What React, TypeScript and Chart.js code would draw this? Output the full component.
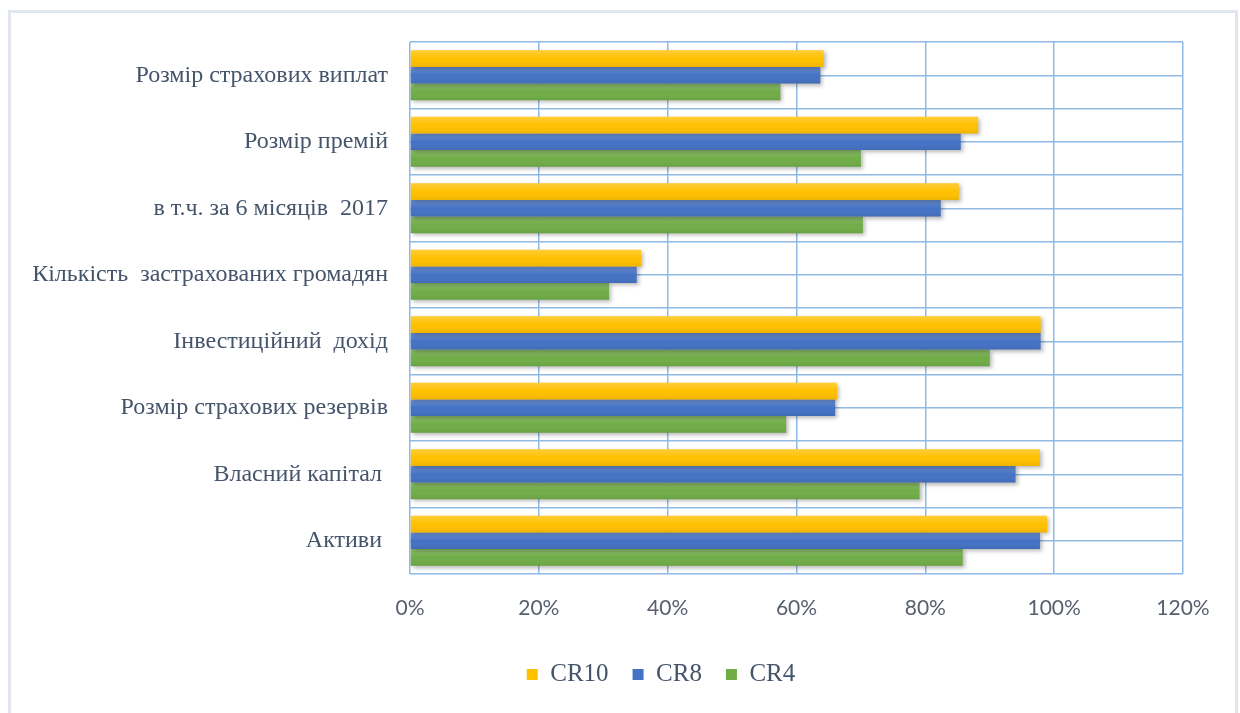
import React, { useEffect, useRef } from "react";
import { Chart, registerables } from "chart.js";

Chart.register(...registerables);

const categories = [
  "Розмір страхових виплат",
  "Розмір премій",
  "в т.ч. за 6 місяців  2017",
  "Кількість  застрахованих громадян",
  "Інвестиційний  дохід",
  "Розмір страхових резервів",
  "Власний капітал ",
  "Активи ",
];

const cr10 = [64.2, 88.2, 85.2, 35.9, 97.9, 66.3, 97.8, 98.9];
const cr8 = [63.7, 85.5, 82.4, 35.2, 97.9, 66.0, 94.0, 97.8];
const cr4 = [57.5, 70.0, 70.3, 30.9, 90.0, 58.4, 79.1, 85.8];

const xTicks = [0, 20, 40, 60, 80, 100, 120];

const GRID = "#8FBAE3";

const barFx = {
  id: "barFx",
  afterLayout(chart: any) {
    // let the category labels extend to the left of the axis box without being clipped
    if (chart.scales.y) chart.scales.y.left = 0;
  },
  beforeDatasetDraw(chart: any) {
    const ctx = chart.ctx;
    ctx.save();
    ctx.shadowColor = "rgba(0,0,0,0.28)";
    ctx.shadowBlur = 4;
    ctx.shadowOffsetX = 2;
    ctx.shadowOffsetY = 2;
  },
  afterDatasetDraw(chart: any, args: any) {
    const ctx = chart.ctx;
    ctx.restore();
    ctx.save();
    args.meta.data.forEach((el: any) => {
      const { x, y, base, height } = el.getProps(["x", "y", "base", "height"], true);
      const top = y - height / 2;
      const g = ctx.createLinearGradient(0, top, 0, top + height);
      g.addColorStop(0, "rgba(255,255,255,0.22)");
      g.addColorStop(0.5, "rgba(255,255,255,0)");
      g.addColorStop(1, "rgba(0,0,0,0.07)");
      ctx.fillStyle = g;
      ctx.fillRect(Math.min(base, x), top, Math.abs(x - base), height);
    });
    ctx.restore();
  },
};

export default function App() {
  const ref = useRef<HTMLCanvasElement | null>(null);

  useEffect(() => {
    if (!ref.current) return;
    const chart = new Chart(ref.current, {
      type: "bar",
      data: {
        labels: categories,
        datasets: [
          { label: "CR10", data: cr10, backgroundColor: "#FFC000", borderWidth: 0 },
          { label: "CR8", data: cr8, backgroundColor: "#4472C4", borderWidth: 0 },
          { label: "CR4", data: cr4, backgroundColor: "#70AD47", borderWidth: 0 },
        ],
      },
      options: {
        indexAxis: "y",
        responsive: false,
        animation: false,
        devicePixelRatio: 1,
        datasets: { bar: { barPercentage: 1, categoryPercentage: 0.75 } },
        layout: { padding: { left: 139, right: 57, top: 42, bottom: 16 } },
        scales: {
          x: {
            type: "linear",
            min: 0,
            max: 120,
            afterBuildTicks: (s: any) => {
              s.ticks = xTicks.map((v) => ({ value: v }));
            },
            ticks: {
              callback: (v: any) => v + "%",
              font: { family: "Lato", size: 21 },
              color: "#58606F",
              padding: 22,
            },
            grid: { color: GRID, lineWidth: 1.5, drawTicks: false },
            border: { display: false },
            afterFit: (s: any) => {
              s.height = 64;
            },
          },
          y: {
            type: "category",
            offset: true,
            grid: { offset: true, color: GRID, lineWidth: 1.5, drawTicks: false },
            ticks: {
              font: { family: "Liberation Serif", size: 24 },
              color: "#44546A",
              padding: 22,
            },
            border: { display: false },
            afterFit: (s: any) => {
              s.width = 271;
            },
          },
          y2: {
            type: "category",
            position: "left",
            offset: true,
            grid: { offset: false, color: GRID, lineWidth: 1.5, drawTicks: false },
            ticks: { display: false },
            border: { display: false },
            afterFit: (s: any) => {
              s.width = 0;
            },
          },
        },
        plugins: {
          legend: {
            position: "bottom",
            labels: {
              font: { family: "Liberation Serif", size: 25 },
              color: "#44546A",
              boxWidth: 11,
              boxHeight: 11,
              padding: 24,
            },
          },
          tooltip: { enabled: false },
        },
      },
      plugins: [barFx],
    } as any);
    return () => chart.destroy();
  }, []);

  return (
    <div style={{ position: "relative", width: 1240, height: 713, background: "#fff" }}>
      <style>{"html,body{margin:0;padding:0;overflow:hidden;background:#fff}"}</style>
      <div
        style={{
          position: "absolute",
          left: 8,
          top: 10,
          width: 1230,
          height: 720,
          border: "3px solid #E1E5EE",
          boxSizing: "border-box",
        }}
      />
      <canvas
        ref={ref}
        width={1240}
        height={713}
        style={{ position: "absolute", left: 0, top: 0, width: 1240, height: 713 }}
      />
    </div>
  );
}
